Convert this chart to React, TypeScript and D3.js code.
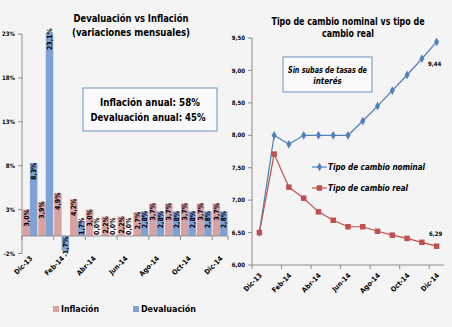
import React from "react";
import * as d3 from "d3";

const categories = ["Dic-13","Ene-14","Feb-14","Mar-14","Abr-14","May-14","Jun-14","Jul-14","Ago-14","Sep-14","Oct-14","Nov-14","Dic-14"];
const inflacion = [3.0, 3.9, 4.9, 4.2, 3.0, 2.2, 2.2, 2.7, 3.7, 3.7, 3.7, 3.7, 3.7];
const devaluacion = [8.3, 23.1, -1.7, 1.7, 0.0, 0.0, 0.0, 2.8, 2.8, 2.8, 2.8, 2.8, 2.8];
const leftTicks = [-2, 3, 8, 13, 18, 23];
const nominal = [6.5, 8.0, 7.86, 8.0, 8.0, 8.0, 8.0, 8.22, 8.45, 8.69, 8.93, 9.18, 9.44];
const real = [6.5, 7.71, 7.2, 7.03, 6.82, 6.69, 6.59, 6.59, 6.52, 6.46, 6.41, 6.35, 6.29];
const rightTicks = [6.0, 6.5, 7.0, 7.5, 8.0, 8.5, 9.0, 9.5];

const FONT = "'Liberation Sans Narrow', 'DejaVu Sans Condensed', 'Liberation Sans', sans-serif";
const PINK = "#d9a1a0";
const BLUE = "#7fa2d6";
const NOM = "#4f81bd";
const REAL = "#c0504d";
const AXIS = "#8c8c8c";

const fmtPct = (v: number) => v.toFixed(1).replace(".", ",") + "%";
const fmtNum = (v: number) => v.toFixed(2).replace(".", ",");

export default function App() {
  const W = 452, H = 327;
  // left chart scales
  const xL = d3.scaleBand<string>().domain(categories).range([22, 228]);
  const sL = d3.scaleBand<string>().domain(["inf", "dev"]).range([0, xL.bandwidth()]).paddingOuter(0.06);
  const yL = d3.scaleLinear().domain([-2, 23]).range([253.5, 34]);
  const y0 = yL(0);
  // right chart scales
  const xR = d3.scaleBand<string>().domain(categories).range([252, 444]);
  const yR = d3.scaleLinear().domain([6, 9.5]).range([265, 38]);
  const cxR = (c: string) => (xR(c) as number) + xR.bandwidth() / 2;

  const labelLen = 15;
  const barLabel = (v: number, cx: number, key: string) => {
    const yTop = yL(Math.max(v, 0));
    const yBot = yL(Math.min(v, 0));
    let base: number;
    if (v < 0) base = yBot + 6;
    else {
      base = yTop + 2 + labelLen;
      if (base > y0 - 1) base = y0 - 1;
    }
    return (
      <text key={key} transform={`translate(${cx},${base}) rotate(-90)`} dy="0.35em"
        fontSize={7} fontWeight="bold" fill="#000" textAnchor="start" fontFamily={FONT}>{fmtPct(v)}</text>
    );
  };

  const lineNom = d3.line<number>().x((_, i) => cxR(categories[i])).y((d) => yR(d));
  const lineReal = d3.line<number>().x((_, i) => cxR(categories[i])).y((d) => yR(d));
  const diamond = d3.symbol().type(d3.symbolDiamond).size(22)();
  const square = d3.symbol().type(d3.symbolSquare).size(30)();

  return (
    <svg width={W} height={H} style={{ position: "absolute", left: 0, top: 0 }} fontFamily={FONT}>
      <rect x={0} y={0} width={W} height={H} fill="#f4f4f4" />

      {/* LEFT CHART */}
      <text x={131} y={22} textAnchor="middle" fontSize={11} fontWeight="bold" textLength={115} lengthAdjust="spacingAndGlyphs">Devaluación vs Inflación</text>
      <text x={131} y={36} textAnchor="middle" fontSize={11} fontWeight="bold" textLength={118} lengthAdjust="spacingAndGlyphs">(variaciones mensuales)</text>

      {/* y axis */}
      <line x1={22} x2={22} y1={yL(23)} y2={yL(-2)} stroke={AXIS} />
      {leftTicks.map((t) => (
        <g key={t}>
          <line x1={18} x2={22} y1={yL(t)} y2={yL(t)} stroke={AXIS} />
          <text x={15} y={yL(t)} dy="0.35em" textAnchor="end" fontSize={6} fontWeight="bold">{t}%</text>
        </g>
      ))}

      {/* bars */}
      {categories.map((c, i) => {
        const x0 = xL(c) as number;
        const vi = inflacion[i], vd = devaluacion[i];
        return (
          <g key={c}>
            <rect x={x0 + (sL("inf") as number)} width={sL.bandwidth()} y={yL(Math.max(vi, 0))}
              height={Math.abs(yL(vi) - y0)} fill={PINK} />
            <rect x={x0 + (sL("dev") as number)} width={sL.bandwidth()} y={yL(Math.max(vd, 0))}
              height={Math.abs(yL(vd) - y0)} fill={BLUE} />
          </g>
        );
      })}
      {/* x axis */}
      <line x1={22} x2={228} y1={y0} y2={y0} stroke={AXIS} />
      {categories.map((c, i) => i % 2 === 0 ? (
        <line key={"tk" + c} x1={xL(c) as number} x2={xL(c) as number} y1={y0} y2={y0 + 4} stroke={AXIS} />
      ) : null)}
      <line x1={228} x2={228} y1={y0} y2={y0 + 4} stroke={AXIS} />
      {categories.map((c, i) => {
        const x0 = xL(c) as number;
        return (
          <g key={"lb" + c}>
            {barLabel(inflacion[i], x0 + (sL("inf") as number) + sL.bandwidth() / 2, "li" + c)}
            {barLabel(devaluacion[i], x0 + (sL("dev") as number) + sL.bandwidth() / 2, "ld" + c)}
          </g>
        );
      })}
      {categories.map((c, i) => i % 2 === 0 ? (
        <text key={"xl" + c} transform={`translate(${(xL(c) as number) + xL.bandwidth() / 2 + 3},${259}) rotate(-45)`}
          textAnchor="end" fontSize={7} fontWeight="bold">{c}</text>
      ) : null)}

      {/* annotation box left */}
      <rect x={83} y={88} width={134} height={43} fill="#fafafa" stroke="#6d8fc4" strokeWidth={1} />
      <text x={150} y={106} textAnchor="middle" fontSize={11} fontWeight="bold" textLength={100} lengthAdjust="spacingAndGlyphs">Inflación anual: 58%</text>
      <text x={148} y={121} textAnchor="middle" fontSize={11} fontWeight="bold" textLength={115} lengthAdjust="spacingAndGlyphs">Devaluación anual: 45%</text>

      {/* legend left */}
      <rect x={53} y={306} width={6} height={6} fill={PINK} />
      <text x={61} y={312} fontSize={8} fontWeight="bold" textLength={38} lengthAdjust="spacingAndGlyphs">Inflación</text>
      <rect x={133} y={306} width={6} height={6} fill={BLUE} />
      <text x={141} y={312} fontSize={8} fontWeight="bold" textLength={55} lengthAdjust="spacingAndGlyphs">Devaluación</text>

      {/* RIGHT CHART */}
      <text x={348} y={25} textAnchor="middle" fontSize={10} fontWeight="bold" textLength={153} lengthAdjust="spacingAndGlyphs">Tipo de cambio nominal vs tipo de</text>
      <text x={348} y={37} textAnchor="middle" fontSize={10} fontWeight="bold" textLength={52} lengthAdjust="spacingAndGlyphs">cambio real</text>

      <line x1={252} x2={252} y1={yR(9.5)} y2={yR(6)} stroke={AXIS} />
      {rightTicks.map((t) => (
        <g key={"rt" + t}>
          <line x1={248} x2={252} y1={yR(t)} y2={yR(t)} stroke={AXIS} />
          <text x={245} y={yR(t)} dy="0.35em" textAnchor="end" fontSize={6} fontWeight="bold">{fmtNum(t)}</text>
        </g>
      ))}
      <line x1={252} x2={444} y1={yR(6)} y2={yR(6)} stroke={AXIS} />
      {categories.map((c, i) => i % 2 === 0 ? (
        <line key={"rtk" + c} x1={xR(c) as number} x2={xR(c) as number} y1={yR(6)} y2={yR(6) + 4} stroke={AXIS} />
      ) : null)}
      {categories.map((c, i) => i % 2 === 0 ? (
        <text key={"rxl" + c} transform={`translate(${cxR(c) + 3},${276}) rotate(-45)`}
          textAnchor="end" fontSize={7} fontWeight="bold">{c}</text>
      ) : null)}

      <path d={lineNom(nominal) as string} fill="none" stroke={NOM} strokeWidth={1.2} />
      <path d={lineReal(real) as string} fill="none" stroke={REAL} strokeWidth={1.2} />
      {nominal.map((v, i) => (
        <path key={"nm" + i} d={diamond as string} transform={`translate(${cxR(categories[i])},${yR(v)})`} fill={NOM} />
      ))}
      {real.map((v, i) => (
        <path key={"rm" + i} d={square as string} transform={`translate(${cxR(categories[i])},${yR(v)})`} fill={REAL} />
      ))}
      <text x={cxR(categories[12]) - 2} y={yR(nominal[12]) + 22} dy="0.35em" textAnchor="middle" fontSize={6} fontWeight="bold">{fmtNum(nominal[12])}</text>
      <text x={cxR(categories[12]) - 1} y={yR(real[12]) - 12} dy="0.35em" textAnchor="middle" fontSize={6} fontWeight="bold">{fmtNum(real[12])}</text>

      {/* annotation box right */}
      <rect x={283} y={57} width={89} height={35} fill="#fafafa" stroke="#6d8fc4" strokeWidth={1} />
      <text x={327.5} y={73} textAnchor="middle" fontSize={8} fontWeight="bold" fontStyle="italic" textLength={79} lengthAdjust="spacingAndGlyphs">Sin subas de tasas de</text>
      <text x={327.5} y={84} textAnchor="middle" fontSize={8} fontWeight="bold" fontStyle="italic">interés</text>

      {/* legend right */}
      <line x1={312} x2={327} y1={167} y2={167} stroke={NOM} strokeWidth={1.2} />
      <path d={diamond as string} transform="translate(319.5,167)" fill={NOM} />
      <text x={328} y={170} fontSize={9} fontWeight="bold" fontStyle="italic" textLength={97} lengthAdjust="spacingAndGlyphs">Tipo de cambio nominal</text>
      <line x1={312} x2={327} y1={188} y2={188} stroke={REAL} strokeWidth={1.2} />
      <path d={square as string} transform="translate(319.5,188)" fill={REAL} />
      <text x={328} y={191} fontSize={9} fontWeight="bold" fontStyle="italic" textLength={80} lengthAdjust="spacingAndGlyphs">Tipo de cambio real</text>
    </svg>
  );
}
